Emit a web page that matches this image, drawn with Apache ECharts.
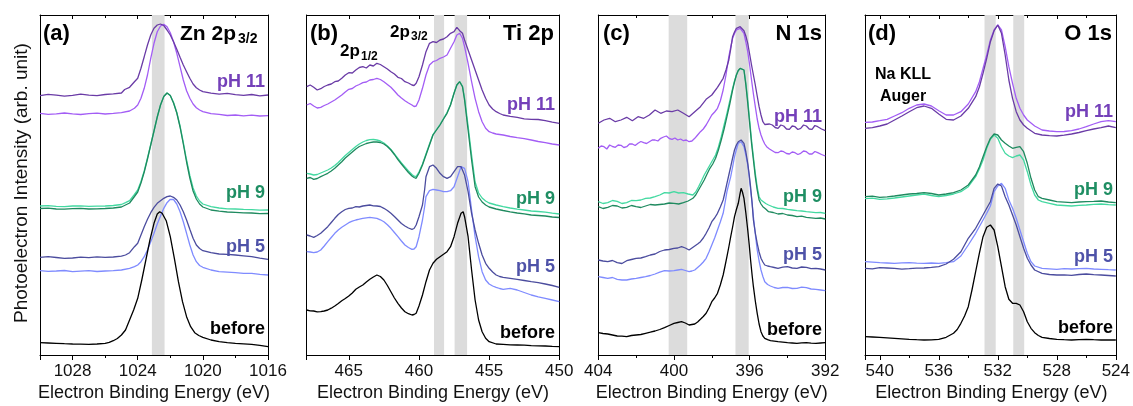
<!DOCTYPE html>
<html><head><meta charset="utf-8">
<script src="https://cdn.jsdelivr.net/npm/echarts/dist/echarts.min.js"></script>
<style>html,body{margin:0;padding:0;background:#fff}#c{width:1133px;height:406px}</style>
</head><body><div id="c"></div>
<script>
// ---------------- DATA ----------------
const panelTitles = ['Zn 2p', 'Ti 2p', 'N 1s', 'O 1s'];
const panelLetters = ['(a)', '(b)', '(c)', '(d)'];
const seriesNames = ['pH 11', 'pH 9', 'pH 5', 'before'];
const xAxisName = 'Electron Binding Energy (eV)';
const yAxisName = 'Photoelectron Intensity (arb. unit)';

const a_range = [1016, 1030], a_major = [1028, 1024, 1020, 1016], a_minor = [1026, 1022, 1018];
const b_range = [450, 468], b_major = [465, 460, 455, 450], b_minor = [];
const c_range = [392, 404], c_major = [404, 400, 396, 392], c_minor = [402, 398, 394];
const d_range = [524, 541], d_major = [540, 536, 532, 528, 524], d_minor = [538, 534, 530, 526];
const a_step = 4, b_step = 5, c_step = 4, d_step = 4;

const a_bands = [[1023.13, 1022.35]];
const b_bands = [[458.93, 458.21], [457.46, 456.57]];
const c_bands = [[400.28, 399.3], [396.75, 396.05]];
const d_bands = [[532.9, 532.14], [530.95, 530.21]];

const a_pH11_dark = [[1030,259.3],[1029.5,260.6],[1029,259.8],[1028.5,258.9],[1028,259.6],[1027.5,260.8],[1027,259.9],[1026.5,259.4],[1026,260.5],[1025.5,261.2],[1025,262],[1024.8,265.5],[1024.5,267.7],[1024.2,273.3],[1024,276.7],[1023.8,286.7],[1023.6,298.3],[1023.4,310],[1023.2,320],[1023,326.7],[1022.8,330],[1022.6,331],[1022.4,329.5],[1022.2,325],[1022,320],[1021.8,313.3],[1021.6,305.7],[1021.4,297.7],[1021.2,290],[1021,283.3],[1020.8,276.7],[1020.6,271],[1020.4,267.3],[1020.2,265],[1020,263.3],[1019.5,261.9],[1019,260.8],[1018.5,261.6],[1018,260.4],[1017.5,259.6],[1017,260.5],[1016.5,259.2],[1016,260]];
const a_pH11_light = [[1030,241.7],[1029.5,240.6],[1029,241.2],[1028.5,242],[1028,241.1],[1027.5,240.5],[1027,241.3],[1026.5,241.8],[1026,241],[1025.5,241.6],[1025,242.3],[1024.5,244],[1024.2,246.7],[1024,250],[1023.8,256.7],[1023.6,266.7],[1023.4,280],[1023.2,296.7],[1023,311.7],[1022.8,323.3],[1022.6,329],[1022.4,330.7],[1022.2,328.3],[1022,322.3],[1021.8,313.3],[1021.6,301.7],[1021.4,288.3],[1021.2,275],[1021,264.3],[1020.8,256.7],[1020.6,251],[1020.4,247.3],[1020.2,245],[1020,243.3],[1019.5,241.3],[1019,240.6],[1018.5,239.5],[1018,240],[1017.5,239.2],[1017,239.9],[1016.5,239],[1016,239.3]];
const a_pH9_dark = [[1030,146.5],[1029.5,146.9],[1029,146],[1028.5,145.8],[1028,146.3],[1027.5,146.7],[1027,146],[1026.5,146.2],[1026,146.5],[1025.5,147],[1025,148],[1024.75,150],[1024.5,152],[1024.2,158.5],[1024,163],[1023.8,172],[1023.6,183],[1023.4,196],[1023.2,210],[1023,224],[1022.8,238],[1022.6,250],[1022.4,258.5],[1022.2,262],[1022,259.5],[1021.8,252],[1021.6,242],[1021.4,228],[1021.2,211],[1021,193],[1020.8,177],[1020.6,164],[1020.4,156],[1020.2,151],[1020,148],[1019.5,145],[1019,143.8],[1018.5,143],[1018,142.6],[1017.5,142.2],[1017,142],[1016.5,141.4],[1016,141.5]];
const a_pH9_light = [[1030,149],[1029.5,149.3],[1029,148.6],[1028.5,148.4],[1028,149],[1027.5,149.2],[1027,148.6],[1026.5,148.8],[1026,149],[1025.5,149.5],[1025,150.5],[1024.75,152.3],[1024.5,154.3],[1024.2,160.5],[1024,165],[1023.8,173.5],[1023.6,184],[1023.4,197],[1023.2,210.5],[1023,224],[1022.8,238],[1022.6,250],[1022.4,258.5],[1022.2,262],[1022,259.5],[1021.8,252.5],[1021.6,242.5],[1021.4,229],[1021.2,212.5],[1021,195],[1020.8,179.5],[1020.6,167],[1020.4,159],[1020.2,154],[1020,151],[1019.5,148.3],[1019,147],[1018.5,146.2],[1018,146],[1017.5,145.6],[1017,145.4],[1016.5,144.9],[1016,145]];
const a_pH5_dark = [[1030,97.7],[1029.5,98.3],[1029,97.5],[1028.5,96.6],[1028,97],[1027.5,97.9],[1027,97.4],[1026.5,98.2],[1026,97.6],[1025.5,98],[1025,98.8],[1024.75,100],[1024.5,102.3],[1024.2,108.3],[1024,111.7],[1023.8,120],[1023.6,128.3],[1023.4,135.7],[1023.2,142.3],[1023,147.7],[1022.8,151.7],[1022.6,154.3],[1022.4,156.7],[1022.2,158.3],[1022,159],[1021.8,157.7],[1021.6,155],[1021.4,150],[1021.2,143.3],[1021,135],[1020.8,125.7],[1020.6,116.7],[1020.4,110],[1020.2,106.5],[1020,104.3],[1019.5,102.3],[1019,101],[1018.5,100.6],[1018,100],[1017.5,99.2],[1017,98.3],[1016.5,96.8],[1016,95.7]];
const a_pH5_light = [[1030,84.3],[1029.5,83.6],[1029,84],[1028.5,84.5],[1028,83.3],[1027.5,83.9],[1027,84.3],[1026.5,83.5],[1026,84],[1025.5,84.4],[1025,85],[1024.5,86.7],[1024.2,88.3],[1024,90],[1023.8,93.3],[1023.6,98.3],[1023.4,105],[1023.2,113.3],[1023,121.7],[1022.8,131],[1022.6,139],[1022.4,146.7],[1022.2,152.3],[1022,155.7],[1021.8,155.5],[1021.6,151],[1021.4,143.3],[1021.2,133.3],[1021,121.7],[1020.8,110],[1020.6,100],[1020.4,93.3],[1020.2,89.5],[1020,87.7],[1019.5,85],[1019,83.3],[1018.5,82.8],[1018,82.3],[1017.5,81.6],[1017,81.7],[1016.5,80.6],[1016,80]];
const a_before = [[1030,12.3],[1029.5,12],[1029,11.7],[1028.5,11.3],[1028,11],[1027.5,10.9],[1027,10.7],[1026.5,11],[1026,11.7],[1025.75,12.6],[1025.5,14.3],[1025.25,16.5],[1025,20],[1024.75,25],[1024.5,35],[1024.25,45],[1024,56.7],[1023.75,75],[1023.5,95],[1023.25,115],[1023,131.7],[1022.8,141],[1022.65,143.3],[1022.5,141.7],[1022.25,134.3],[1022,118.3],[1021.75,96.7],[1021.5,73.3],[1021.25,53.3],[1021,38.3],[1020.75,28.3],[1020.5,22.3],[1020.25,19.5],[1020,17.7],[1019.5,15],[1019,13.3],[1018.5,12.3],[1018,11.7],[1017.5,11.2],[1017,10.7],[1016.5,9.6],[1016,8.3]];

const b_pH11_dark = [[468,268.3],[467.75,270],[467.5,267.7],[467.25,265],[467,266.3],[466.75,268.5],[466.5,270],[466.25,271],[466,273.3],[465.75,274],[465.5,276.7],[465.25,280],[465,282.3],[464.75,282],[464.5,285],[464.25,287.5],[464,288.3],[463.75,287],[463.5,290],[463.25,289],[463,291.7],[462.75,290.5],[462.5,288.3],[462.25,286],[462,283.3],[461.75,281],[461.5,277.7],[461.25,276.5],[461,273.3],[460.75,272],[460.5,270],[460.35,269.5],[460.2,271.7],[460,278.3],[459.75,290],[459.5,303.3],[459.25,311.7],[459,313.3],[458.75,312.5],[458.5,315],[458.25,316],[458,318.3],[457.75,321.7],[457.5,323.3],[457.3,327.7],[457.1,324.3],[456.9,321.7],[456.75,315],[456.5,305],[456.25,295],[456,285],[455.75,275],[455.5,265],[455.25,256.7],[455,250],[454.75,246],[454.5,243.3],[454.25,241.5],[454,240],[453.5,238.7],[453,237.7],[452.5,236.2],[452,235.7],[451.5,235.5],[451,234.3],[450.5,232.8],[450,231.7]];
const b_pH11_light = [[468,250],[467.75,251.5],[467.5,249],[467.25,247],[467,247.7],[466.75,249.5],[466.5,251],[466.25,253],[466,255],[465.75,257.5],[465.5,260],[465.25,263],[465,265.7],[464.75,266.5],[464.5,269],[464.25,270.5],[464,272.3],[463.75,273],[463.5,275],[463.25,275.5],[463,276.7],[462.75,275.5],[462.5,273.3],[462.25,270.5],[462,267.7],[461.75,264],[461.5,260],[461.25,257],[461,254.3],[460.75,252],[460.5,250],[460.35,248.5],[460.2,249],[460,255],[459.75,266.7],[459.5,280],[459.25,290],[459,293.3],[458.75,294.5],[458.5,296.7],[458.25,298],[458,300],[457.75,306.7],[457.5,313.3],[457.3,320],[457.1,321.7],[456.9,316.7],[456.75,308.3],[456.5,291.7],[456.25,273.3],[456,256.7],[455.75,243.3],[455.5,233.3],[455.25,226.7],[455,223.3],[454.75,222],[454.5,221],[454.25,220.5],[454,220],[453.5,218.5],[453,217.3],[452.5,216.3],[452,215],[451.5,213.5],[451,212.3],[450.5,211],[450,210]];
const b_pH9_dark = [[468,176.7],[467.75,177.5],[467.5,175.7],[467.25,176.5],[467,178.3],[466.75,180],[466.5,181.7],[466.25,184],[466,186.7],[465.75,190],[465.5,193.3],[465.25,197],[465,200],[464.75,203],[464.5,206],[464.25,208.5],[464,210],[463.75,211.5],[463.5,212.3],[463.25,213],[463,213],[462.75,212.5],[462.5,211],[462.25,208.5],[462,205],[461.75,200.5],[461.5,195.3],[461.25,191],[461,186.7],[460.75,182.5],[460.5,179],[460.35,177.5],[460.2,176.7],[460,181.7],[459.75,190],[459.5,200],[459.25,210],[459,220],[458.75,225],[458.5,230],[458.25,236],[458,241.7],[457.75,250],[457.5,261.7],[457.3,270],[457.1,273.3],[456.9,268.3],[456.75,255],[456.5,225],[456.25,195],[456,168.3],[455.75,158],[455.5,153],[455.25,150],[455,148],[454.5,146],[454,144.5],[453.5,143.2],[453,142],[452.5,141.2],[452,140],[451.5,139.5],[451,139],[450.5,138],[450,137.5]];
const b_pH9_light = [[468,181.7],[467.75,181],[467.5,180],[467.25,180.5],[467,182],[466.75,183.5],[466.5,185],[466.25,187],[466,189.5],[465.75,192.5],[465.5,196],[465.25,199.5],[465,202.5],[464.75,205.5],[464.5,208.5],[464.25,211],[464,213],[463.75,214.5],[463.5,215.3],[463.25,215.5],[463,215],[462.75,214],[462.5,212],[462.25,209],[462,205.5],[461.75,201],[461.5,196.5],[461.25,192],[461,188],[460.75,184],[460.5,180.5],[460.35,178.8],[460.2,178.3],[460,183],[459.75,191],[459.5,201],[459.25,211],[459,220.5],[458.75,225.5],[458.5,230.5],[458.25,236.5],[458,242.5],[457.75,250.5],[457.5,262],[457.3,270],[457.1,273.3],[456.9,269],[456.75,257],[456.5,229],[456.25,200],[456,173],[455.75,162],[455.5,157],[455.25,154],[455,152],[454.5,150],[454,148.3],[453.5,147],[453,145.8],[452.5,145],[452,144],[451.5,143.5],[451,142.8],[450.5,141.8],[450,141]];
const b_pH5_dark = [[468,120],[467.75,119],[467.5,117.7],[467.25,119.5],[467,121.7],[466.75,125],[466.5,128.3],[466.25,132.5],[466,136.7],[465.75,140.5],[465.5,143.3],[465.25,145.5],[465,146.7],[464.75,147],[464.5,148.3],[464.25,148],[464,149],[463.75,149.5],[463.5,150],[463.25,149.2],[463,149],[462.75,148.5],[462.5,146.7],[462.25,144.5],[462,141.7],[461.75,138.5],[461.5,135],[461.25,131.5],[461,129],[460.75,127],[460.5,125.7],[460.35,126.5],[460.2,130],[460,138.3],[459.75,150],[459.6,165],[459.5,178.3],[459.25,188.3],[459,190],[458.75,186.7],[458.5,181.7],[458.25,178.3],[458,176.7],[457.75,178.3],[457.5,183.3],[457.25,188.3],[457,188.3],[456.75,180],[456.5,163.3],[456.25,141.7],[456,125],[455.75,111.7],[455.5,100],[455.25,91.7],[455,86.7],[454.75,83],[454.5,80],[454.25,78.5],[454,77.7],[453.5,76.7],[453,75.7],[452.5,74.5],[452,73.3],[451.5,72.3],[451,71],[450.5,69.5],[450,67.7]];
const b_pH5_light = [[468,103.3],[467.75,103],[467.5,102.3],[467.25,103],[467,105],[466.75,109],[466.5,113.3],[466.25,117.5],[466,121.7],[465.75,125],[465.5,127.7],[465.25,130],[465,132.3],[464.75,133.8],[464.5,135],[464.25,135.8],[464,136.7],[463.75,137.2],[463.5,137.7],[463.25,137.2],[463,136.7],[462.75,135.2],[462.5,133.3],[462.25,130.2],[462,126.7],[461.75,122.5],[461.5,118.3],[461.25,114],[461,110],[460.75,107.5],[460.5,105.7],[460.35,106],[460.2,108.3],[460,118.3],[459.75,135],[459.6,148],[459.5,158.3],[459.25,164.3],[459,165.7],[458.75,165],[458.5,164.3],[458.25,163.3],[458,163.3],[457.75,164.3],[457.5,168.3],[457.25,178.3],[457,188.3],[456.75,186.7],[456.5,173.3],[456.25,145],[456,118.3],[455.75,98.3],[455.5,83.3],[455.25,75],[455,71],[454.75,69],[454.5,67.7],[454.25,66.5],[454,65.7],[453.5,66.7],[453,65],[452.5,62.5],[452,60],[451.5,58.2],[451,56.7],[450.5,55],[450,53.3]];
const b_before = [[468,45],[467.75,44.2],[467.5,44],[467.25,43.2],[467,43.3],[466.75,44],[466.5,45],[466.25,46.8],[466,49],[465.75,51.5],[465.5,54.3],[465.25,56.5],[465,59],[464.75,62],[464.5,65.7],[464.25,68],[464,70],[463.75,73],[463.5,75.7],[463.25,78],[463,80],[462.75,78.5],[462.5,75],[462.25,69.5],[462,63.3],[461.75,57],[461.5,51.7],[461.25,47],[461,43.3],[460.75,41.3],[460.5,40],[460.35,40.5],[460.2,41.7],[460,49],[459.75,60],[459.5,73.3],[459.25,85],[459,91.7],[458.75,95.7],[458.5,98.3],[458.25,100.7],[458,103.3],[457.75,108.3],[457.5,118.3],[457.25,131.7],[457,141.7],[456.85,143.3],[456.75,138.3],[456.5,118.3],[456.25,85],[456,55],[455.75,35],[455.5,23.3],[455.25,16.7],[455,13.3],[454.5,11],[454,10.7],[453.5,10.2],[453,10],[452.5,9.8],[452,9.3],[451.5,9.2],[451,9],[450.5,8.6],[450,8.3]];

const c_pH11_dark = [[404,231.7],[403.7,235],[403.4,236.7],[403.1,233.3],[402.8,235],[402.5,237.7],[402.2,234.3],[401.9,238.3],[401.6,236.7],[401.3,240],[401,245],[400.7,241.7],[400.4,244],[400.1,243.3],[399.8,245],[399.5,241.7],[399.2,238.3],[398.9,243.3],[398.6,248.3],[398.3,255.7],[398,260],[397.7,267.7],[397.4,276.7],[397.25,285],[397.1,295],[397,306],[396.9,318.3],[396.8,323],[396.7,326.7],[396.6,328.5],[396.5,328.3],[396.4,327],[396.3,324.3],[396.2,319],[396.1,311.7],[396,301],[395.9,290],[395.8,280],[395.7,270],[395.6,259],[395.5,248.3],[395.4,240],[395.3,233.3],[395.2,230.5],[395.1,229],[394.95,231],[394.8,230],[394.65,227.5],[394.5,226.7],[394.35,230],[394.2,229],[394.05,226],[393.9,225.7],[393.75,229],[393.6,228.3],[393.45,225.5],[393.3,226.7],[393.15,230],[393,229],[392.85,226],[392.7,225.7],[392.55,229.5],[392.4,228.3],[392.2,226],[392,224.3]];
const c_pH11_light = [[404,206.7],[403.85,209],[403.7,208.3],[403.55,206],[403.4,210],[403.25,208.5],[403.1,207.7],[402.95,210],[402.8,209.7],[402.65,207.5],[402.5,208.3],[402.35,211],[402.2,211],[402.05,209.5],[401.9,211.7],[401.75,213.5],[401.6,212.3],[401.45,211.5],[401.3,213.3],[401.15,215],[401,215],[400.85,214],[400.7,216.7],[400.55,218],[400.4,219],[400.25,216.5],[400.1,215.7],[399.95,217],[399.8,215],[399.65,216],[399.5,214.3],[399.35,215],[399.2,213.3],[399.05,214],[398.9,216.7],[398.75,220],[398.6,223.3],[398.45,226],[398.3,230],[398.15,235],[398,240],[397.85,243],[397.7,246.7],[397.55,254],[397.4,265],[397.25,280],[397.1,298.3],[397,308],[396.9,316.7],[396.8,321.5],[396.7,325],[396.6,326.5],[396.5,326.7],[396.4,325],[396.3,321.7],[396.2,313],[396.1,303.3],[396,290],[395.9,275],[395.8,261],[395.7,248.3],[395.6,236],[395.5,226.7],[395.4,220],[395.3,215],[395.2,211],[395.1,208.3],[394.95,206],[394.8,204.3],[394.65,202.5],[394.5,202.3],[394.35,204],[394.2,203.3],[394.05,201.5],[393.9,201],[393.75,203],[393.6,202.3],[393.45,200.5],[393.3,201.7],[393.15,204],[393,203.3],[392.85,201],[392.7,201],[392.55,203.5],[392.4,202.3],[392.2,200.5],[392,199]];
const c_pH9_dark = [[404,148.3],[403.75,146.5],[403.5,147.7],[403.25,149.5],[403,149],[402.75,147],[402.5,147.7],[402.25,149.5],[402,148.3],[401.75,147.5],[401.5,149],[401.25,150.5],[401,150],[400.75,150.5],[400.5,151],[400.25,152],[400,151.7],[399.75,151],[399.5,152.3],[399.25,154],[399,156.7],[398.85,160],[398.7,165],[398.55,170],[398.4,175],[398.25,181],[398.1,186.7],[397.95,191],[397.8,196.7],[397.65,205],[397.5,215],[397.35,226],[397.2,238.3],[397.05,251],[396.9,265],[396.8,273],[396.7,280],[396.6,284.5],[396.5,286.7],[396.4,286.5],[396.3,285],[396.2,270],[396.1,251.7],[396,232],[395.9,211.7],[395.8,195],[395.7,178.3],[395.6,165],[395.5,155],[395.4,151],[395.3,148.3],[395.15,146],[395,143.3],[394.75,142.5],[394.5,141],[394.25,141.5],[394,140],[393.75,139.5],[393.5,138.3],[393.25,138.8],[393,137.7],[392.75,137.2],[392.5,136.7],[392.25,137],[392,136]];
const c_pH9_light = [[404,153.3],[403.75,151.5],[403.5,152.3],[403.25,154.5],[403,153.7],[402.75,151.5],[402.5,152.3],[402.25,154.5],[402,154.3],[401.75,155],[401.5,156.7],[401.25,157],[401,158.3],[400.75,160],[400.5,162.3],[400.25,162],[400,163.3],[399.75,162],[399.5,162.3],[399.25,161],[399,160],[398.85,163],[398.7,168.3],[398.55,174],[398.4,180],[398.25,185],[398.1,190],[397.95,195],[397.8,200],[397.65,208],[397.5,218.3],[397.35,230],[397.2,241.7],[397.05,254],[396.9,266.7],[396.8,274],[396.7,280],[396.6,284.5],[396.5,286.7],[396.4,286.5],[396.3,285],[396.2,272],[396.1,255],[396,235],[395.9,215],[395.8,198],[395.7,181.7],[395.6,168],[395.5,158.3],[395.4,155],[395.3,153.3],[395.15,151.5],[395,150],[394.75,148],[394.5,146.7],[394.25,146.5],[394,145.7],[393.75,145],[393.5,144.3],[393.25,144],[393,143.3],[392.75,142.8],[392.5,142.3],[392.25,142.5],[392,141.7]];
const c_pH5_dark = [[404,95],[403.75,94],[403.5,93.3],[403.25,94.5],[403,92.3],[402.75,91.5],[402.5,94.3],[402.25,95.5],[402,96.7],[401.75,97],[401.5,98.3],[401.25,100],[401,101],[400.75,103.5],[400.5,105],[400.25,105.5],[400,106.7],[399.8,107],[399.6,108.3],[399.4,107],[399.2,105],[399.05,107],[398.9,109],[398.75,111],[398.6,113.3],[398.45,117],[398.3,121.7],[398.15,127],[398,133.3],[397.85,137],[397.7,141.7],[397.55,148],[397.4,155],[397.3,163],[397.2,171.7],[397.1,180],[397,188.3],[396.9,197],[396.8,205],[396.7,210],[396.6,213.3],[396.45,215],[396.3,211.7],[396.2,203],[396.1,191.7],[396.02,180],[395.95,168.3],[395.87,152],[395.8,135],[395.7,122],[395.6,111.7],[395.5,103],[395.4,96.7],[395.3,93],[395.2,90],[395.05,89],[394.9,88.3],[394.7,87.5],[394.5,86.7],[394.25,87.8],[394,88.3],[393.75,87],[393.5,86.7],[393.25,88],[393,87.7],[392.75,86.3],[392.5,86.7],[392.25,86],[392,85]];
const c_pH5_light = [[404,78.3],[403.75,77.5],[403.5,76.7],[403.25,77.5],[403,75.7],[402.75,75],[402.5,75],[402.25,76],[402,76.7],[401.75,77.5],[401.5,78.3],[401.25,79.5],[401,81],[400.75,82.8],[400.5,84.3],[400.25,84],[400,84.3],[399.8,85],[399.6,85.7],[399.4,84.5],[399.2,83.3],[399.05,84],[398.9,85],[398.75,87.5],[398.6,90],[398.45,93],[398.3,96.7],[398.15,103],[398,110],[397.85,117],[397.7,125],[397.55,133],[397.4,141.7],[397.3,152],[397.2,163.3],[397.1,171],[397,178.3],[396.9,188],[396.8,198.3],[396.7,205.5],[396.6,211.7],[396.45,213.3],[396.3,208.3],[396.2,200],[396.1,190],[396.02,178],[395.95,165],[395.87,152],[395.8,138.3],[395.7,121],[395.6,105],[395.5,94],[395.4,85],[395.3,78.5],[395.2,73.3],[395.05,70.5],[394.9,69],[394.7,67.5],[394.5,66.7],[394.25,67.5],[394,67.7],[393.75,66.5],[393.5,66.7],[393.25,67.8],[393,67.3],[392.75,66],[392.5,65.7],[392.25,65],[392,64.3]];
const c_before = [[404,22.3],[403.75,21.5],[403.5,21],[403.25,20],[403,19],[402.75,18.8],[402.5,18.3],[402.25,19.5],[402,20],[401.75,20.5],[401.5,21.7],[401.25,22.8],[401,24],[400.75,25.5],[400.5,27.3],[400.25,29.5],[400,31.7],[399.8,32.5],[399.6,33.3],[399.4,32],[399.2,30],[399.05,30.5],[398.9,31],[398.75,33],[398.6,35.7],[398.45,38.5],[398.3,41.7],[398.15,47],[398,53.3],[397.85,57],[397.7,61.7],[397.55,70],[397.4,80],[397.3,89],[397.2,98.3],[397.1,108],[397,118.3],[396.9,128],[396.8,138.3],[396.7,145.5],[396.6,151.7],[396.52,160],[396.45,166.7],[396.38,163],[396.3,156.7],[396.2,142],[396.1,125],[396.02,110],[395.95,95],[395.87,80],[395.8,68.3],[395.7,54],[395.6,41.7],[395.5,31],[395.4,23.3],[395.3,19],[395.2,16.7],[395.05,15.3],[394.9,14.3],[394.7,13.8],[394.5,13.3],[394.25,12.8],[394,12.3],[393.75,12],[393.5,11.7],[393.25,12.2],[393,12.3],[392.75,11.8],[392.5,11.7],[392.25,12],[392,12.3]];

const d_pH11_dark = [[541,226.7],[540.5,227.3],[540,229],[539.5,231],[539,235],[538.5,239],[538,243.3],[537.5,247.3],[537,249],[536.5,246.7],[536,241],[535.5,235.7],[535,235],[534.5,239],[534,246.7],[533.5,258.3],[533.25,268],[533,281.7],[532.75,296.7],[532.5,313.3],[532.25,324.3],[532,330],[531.75,321.7],[531.5,300],[531.25,275],[531,256.7],[530.75,243.3],[530.5,235],[530.25,230],[530,226.7],[529.5,221.7],[529,220],[528.5,219.3],[528,219],[527.5,219.8],[527,221],[526.5,222.5],[526,224.3],[525.5,226],[525,227.3],[524.5,229],[524,227.3]];
const d_pH11_light = [[541,232.7],[540.5,233],[540,234.3],[539.5,235.7],[539,239],[538.5,242.3],[538,246.7],[537.5,250],[537,251],[536.5,249],[536,244.3],[535.5,240],[535,240],[534.5,243.3],[534,251],[533.5,263.3],[533.25,273],[533,286.7],[532.75,300],[532.5,315],[532.25,325],[532,330],[531.75,325],[531.5,308.3],[531.25,288.3],[531,271.7],[530.75,256.7],[530.5,246.7],[530.25,240],[530,235],[529.5,229],[529,225],[528.5,224],[528,223.3],[527.5,223.5],[527,224.3],[526.5,226],[526,228.3],[525.5,231],[525,233.3],[524.5,234.3],[524,233.3]];
const d_pH9_dark = [[541,158.3],[540.5,158.8],[540,157.7],[539.5,158.2],[539,159],[538.5,160],[538,161],[537.5,161.5],[537,162.3],[536.5,161.5],[536,160],[535.5,161],[535,162.3],[534.5,165],[534,170],[533.5,180],[533.25,188],[533,198.3],[532.75,208.3],[532.5,216.7],[532.25,221],[532,220],[531.75,215],[531.5,211.7],[531.25,209],[531,206.7],[530.75,207.7],[530.5,208.3],[530.25,203.3],[530,191.7],[529.75,176.7],[529.5,165],[529.25,158.3],[529,156.7],[528.5,155],[528,153.3],[527.5,152.8],[527,152.3],[526.5,153],[526,153.3],[525.5,153.6],[525,154],[524.5,153],[524,152.3]];
const d_pH9_light = [[541,156.3],[540.5,156.8],[540,155.7],[539.5,156.2],[539,157],[538.5,158],[538,159],[537.5,160],[537,161],[536.5,159.5],[536,158.3],[535.5,159.5],[535,161],[534.5,163.3],[534,168.3],[533.5,178.3],[533.25,186],[533,195],[532.75,206.7],[532.5,215.7],[532.25,220],[532,216.7],[531.75,208.3],[531.5,201.7],[531.25,199],[531,197.3],[530.75,199],[530.5,200],[530.25,195],[530,183.3],[529.75,170],[529.5,160],[529.25,155],[529,153.3],[528.5,151.7],[528,150],[527.5,149.5],[527,149],[526.5,149.6],[526,150],[525.5,150.6],[525,151],[524.5,150.3],[524,150]];
const d_pH5_dark = [[541,86.7],[540.5,86.2],[540,87.3],[539.5,87],[539,86.7],[538.5,85.8],[538,86.3],[537.5,86.9],[537,87],[536.5,87.6],[536,88.3],[535.5,91],[535,95.7],[534.5,103.3],[534,116.7],[533.5,126.7],[533,140],[532.75,146.7],[532.5,153.3],[532.25,166.7],[532,171],[531.75,169],[531.5,158.3],[531.25,150],[531,140],[530.75,130],[530.5,118.3],[530.25,106.7],[530,96.7],[529.75,90],[529.5,85],[529,81.7],[528.5,80.5],[528,80],[527.5,80.2],[527,79.7],[526.5,80.5],[526,81],[525.5,80.4],[525,80],[524.5,79.5],[524,79]];
const d_pH5_light = [[541,93.3],[540.5,92.8],[540,92.3],[539.5,92],[539,91.7],[538.5,92.2],[538,92.3],[537.5,91.8],[537,91.7],[536.5,92],[536,91.7],[535.5,92.3],[535,93.3],[534.5,99],[534,110],[533.5,121.7],[533,135],[532.75,141.7],[532.5,149],[532.25,163.3],[532,169],[531.75,171.7],[531.5,166.7],[531.25,155],[531,146.7],[530.75,136.7],[530.5,125],[530.25,113.3],[530,101.7],[529.75,93.3],[529.5,89],[529,86.7],[528.5,86.2],[528,85.7],[527.5,86.3],[527,86],[526.5,86.4],[526,86.7],[525.5,86],[525,85.7],[524.5,85.3],[524,85]];
const d_before = [[541,18.3],[540.5,18],[540,17.7],[539.5,17.2],[539,16.7],[538.5,16.2],[538,15.7],[537.5,15.3],[537,15],[536.5,15.2],[536,15.7],[535.5,17.7],[535,21.7],[534.75,25.5],[534.5,31.7],[534.25,39],[534,48.3],[533.75,65],[533.5,83.3],[533.25,101.7],[533,118.3],[532.75,127.7],[532.5,130],[532.25,125],[532,108.3],[531.75,88.3],[531.5,68.3],[531.25,55.7],[531,51.7],[530.75,51.7],[530.5,50],[530.25,43.3],[530,33.3],[529.75,26.7],[529.5,22.3],[529.25,19.5],[529,17.7],[528.5,16.5],[528,15.7],[527.5,15.3],[527,15],[526.5,15.4],[526,15.7],[525.5,15.3],[525,15],[524.5,15.2],[524,15]];

// ---------------- LAYOUT / STYLE ----------------
const COL = {
  p11d: '#6a3ba6', p11l: '#a35df5',
  p9d: '#1f8a5f', p9l: '#43d9a1',
  p5d: '#4b4c9e', p5l: '#7f8bff',
  bef: '#000000',
  lab11: '#7440b9', lab9: '#1f8e63', lab5: '#4e52a8'
};
const FONT = '"Liberation Sans", Arial, Helvetica, sans-serif';

const panels = [
  {range: a_range, major: a_major, minor: a_minor, step: a_step, bands: a_bands, left: 40, width: 228,
   curves: [[a_pH11_light, COL.p11l],[a_pH11_dark, COL.p11d],[a_pH9_light, COL.p9l],[a_pH9_dark, COL.p9d],[a_pH5_light, COL.p5l],[a_pH5_dark, COL.p5d],[a_before, COL.bef]]},
  {range: b_range, major: b_major, minor: b_minor, step: b_step, bands: b_bands, left: 306.7, width: 252.6,
   curves: [[b_pH11_light, COL.p11l],[b_pH11_dark, COL.p11d],[b_pH9_light, COL.p9l],[b_pH9_dark, COL.p9d],[b_pH5_light, COL.p5l],[b_pH5_dark, COL.p5d],[b_before, COL.bef]]},
  {range: c_range, major: c_major, minor: c_minor, step: c_step, bands: c_bands, left: 598.3, width: 227,
   curves: [[c_pH11_light, COL.p11l],[c_pH11_dark, COL.p11d],[c_pH9_light, COL.p9l],[c_pH9_dark, COL.p9d],[c_pH5_light, COL.p5l],[c_pH5_dark, COL.p5d],[c_before, COL.bef]]},
  {range: d_range, major: d_major, minor: d_minor, step: d_step, bands: d_bands, left: 865, width: 252.7,
   curves: [[d_pH11_light, COL.p11l],[d_pH11_dark, COL.p11d],[d_pH9_light, COL.p9l],[d_pH9_dark, COL.p9d],[d_pH5_light, COL.p5l],[d_pH5_dark, COL.p5d],[d_before, COL.bef]]}
];
const TOP = 15, H = 340;
const NX = 4; // x axes per panel

const grid = [], xAxis = [], yAxis = [], series = [];
panels.forEach((p, i) => {
  grid.push({left: p.left, top: TOP, width: p.width, height: H, containLabel: false});
  const base = {gridIndex: i, type: 'value', min: p.range[0], max: p.range[1], inverse: true, splitLine: {show: false}};
  const lbl = v => (p.major.indexOf(v) >= 0 ? String(v) : '');
  const hasMinor = p.minor.length > 0;
  const minorStep = p.step / 2;
  // bottom major
  xAxis.push(Object.assign({}, base, {position: 'bottom', interval: p.step,
    axisLine: {show: true, onZero: false, lineStyle: {color: '#000', width: 1}},
    axisTick: {show: true, inside: false, length: 5, lineStyle: {color: '#000', width: 1}},
    axisLabel: {show: true, formatter: lbl, fontSize: 17, color: '#111', margin: 8, fontFamily: FONT,
      showMinLabel: true, showMaxLabel: true, hideOverlap: false}}));
  // bottom minor
  xAxis.push(Object.assign({}, base, {position: 'bottom', interval: minorStep,
    axisLine: {show: false, onZero: false},
    axisTick: {show: hasMinor, inside: false, length: 3, lineStyle: {color: '#000', width: 1}},
    axisLabel: {show: false}}));
  // top major
  xAxis.push(Object.assign({}, base, {position: 'top', interval: p.step,
    axisLine: {show: true, onZero: false, lineStyle: {color: '#000', width: 1}},
    axisTick: {show: true, inside: true, length: 4, lineStyle: {color: '#000', width: 1}},
    axisLabel: {show: false}}));
  // top minor
  xAxis.push(Object.assign({}, base, {position: 'top', interval: minorStep,
    axisLine: {show: false, onZero: false},
    axisTick: {show: hasMinor, inside: true, length: 3, lineStyle: {color: '#000', width: 1}},
    axisLabel: {show: false}}));
  yAxis.push({gridIndex: i, type: 'value', min: 0, max: H, position: 'left',
    axisLine: {show: true, onZero: false, lineStyle: {color: '#000', width: 1}},
    axisTick: {show: false}, axisLabel: {show: false}, splitLine: {show: false}});
  yAxis.push({gridIndex: i, type: 'value', min: 0, max: H, position: 'right',
    axisLine: {show: true, onZero: false, lineStyle: {color: '#000', width: 1}},
    axisTick: {show: false}, axisLabel: {show: false}, splitLine: {show: false}});
  // gray reference bands
  series.push({type: 'line', xAxisIndex: i * NX, yAxisIndex: i * 2, data: p.curves[6][0], symbol: 'none',
    lineStyle: {opacity: 0}, silent: true, z: 1,
    markArea: {silent: true, itemStyle: {color: '#dcdcdc', opacity: 1},
      data: p.bands.map(b => [{xAxis: b[0]}, {xAxis: b[1]}])}});
  p.curves.forEach(([d, c]) => {
    series.push({type: 'line', xAxisIndex: i * NX, yAxisIndex: i * 2, data: d, symbol: 'none', showSymbol: false,
      lineStyle: {color: c, width: 1.3}, z: 3, silent: true});
  });
});

function T(text, x, y, size, align, color, weight) {
  return {type: 'text', x: x, y: y, z: 100, silent: true,
    style: {text: text, fill: color || '#000', align: align || 'left', verticalAlign: 'middle',
      font: (weight || 'bold') + ' ' + size + 'px ' + FONT}};
}
const graphic = [
  // panel a
  T(panelLetters[0], 43, 34, 22), T(panelTitles[0], 236, 34, 21, 'right'), T('3/2', 238, 39, 14),
  T(seriesNames[0], 265, 82, 18, 'right', COL.lab11), T(seriesNames[1], 265, 193, 18, 'right', COL.lab9),
  T(seriesNames[2], 265, 247, 18, 'right', COL.lab5), T(seriesNames[3], 265, 329, 18, 'right'),
  // panel b
  T(panelLetters[1], 310, 34, 22), T(panelTitles[1], 554, 34, 22, 'right'),
  T('2p', 340, 51, 17), T('1/2', 361, 57, 12), T('2p', 390, 32, 17), T('3/2', 411, 37, 12),
  T(seriesNames[0], 555, 105, 18, 'right', COL.lab11), T(seriesNames[1], 555, 199, 18, 'right', COL.lab9),
  T(seriesNames[2], 555, 267, 18, 'right', COL.lab5), T(seriesNames[3], 555, 333, 18, 'right'),
  // panel c
  T(panelLetters[2], 603, 34, 22), T(panelTitles[2], 822, 34, 22, 'right'),
  T(seriesNames[0], 822, 117, 18, 'right', COL.lab11), T(seriesNames[1], 822, 197, 18, 'right', COL.lab9),
  T(seriesNames[2], 822, 255, 18, 'right', COL.lab5), T(seriesNames[3], 822, 330, 18, 'right'),
  // panel d
  T(panelLetters[3], 868, 34, 22), T(panelTitles[3], 1112, 34, 22, 'right'),
  T('Na KLL', 903, 75, 16, 'center'), T('Auger', 903, 97, 16, 'center'),
  T(seriesNames[0], 1113, 112, 18, 'right', COL.lab11), T(seriesNames[1], 1113, 190, 18, 'right', COL.lab9),
  T(seriesNames[2], 1113, 257, 18, 'right', COL.lab5), T(seriesNames[3], 1113, 328, 18, 'right'),
];
panels.forEach(p => graphic.push(T(xAxisName, p.left + p.width / 2, 393, 18, 'center', '#111', 'normal')));
graphic.push({type: 'text', x: 22, y: 183, rotation: Math.PI / 2, z: 100, silent: true,
  style: {text: yAxisName, fill: '#111', align: 'center', verticalAlign: 'middle', font: 'normal 19px ' + FONT}});

const chart = echarts.init(document.getElementById('c'), null, {renderer: 'canvas'});
chart.setOption({animation: false, backgroundColor: '#fff', grid, xAxis, yAxis, series, graphic});
</script>
</body></html>
